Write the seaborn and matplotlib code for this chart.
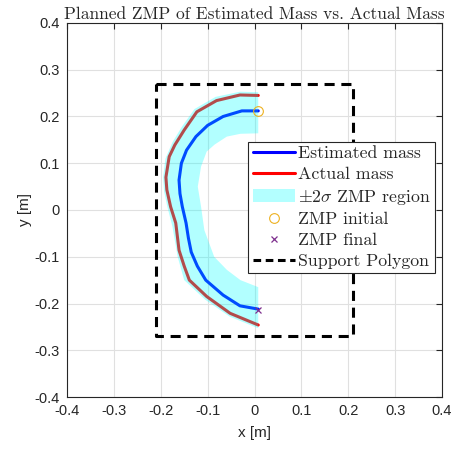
import numpy as np
import matplotlib
matplotlib.use('Agg')
import matplotlib.pyplot as plt
import seaborn as sb
from matplotlib.lines import Line2D
from matplotlib.patches import Patch

# traiectoria ZMP planificata cu masa estimata
est_x = [0.008, -0.027, -0.067, -0.100, -0.125, -0.145, -0.156, -0.161, -0.159,
         -0.154, -0.146, -0.141, -0.135, -0.122, -0.104, -0.067, -0.031, 0.008]
est_y = [0.212, 0.212, 0.200, 0.181, 0.157, 0.128, 0.100, 0.064, 0.035,
         0.007, -0.028, -0.060, -0.090, -0.120, -0.150, -0.182, -0.205, -0.212]

# traiectoria cu masa reala
act_x = [0.008, -0.031, -0.081, -0.123, -0.150, -0.170, -0.182, -0.189, -0.187,
         -0.179, -0.168, -0.161, -0.150, -0.139, -0.102, -0.052, 0.008]
act_y = [0.245, 0.246, 0.234, 0.210, 0.171, 0.139, 0.114, 0.070, 0.043,
         0.007, -0.028, -0.086, -0.120, -0.150, -0.185, -0.221, -0.246]

# regiunea +-2 sigma (margine exterioara si interioara)
out_x = [0.008, -0.031, -0.083, -0.128, -0.155, -0.175, -0.190, -0.195, -0.193,
         -0.186, -0.175, -0.164, -0.150, -0.105, -0.053, 0.008]
out_y = [0.252, 0.253, 0.242, 0.216, 0.178, 0.145, 0.110, 0.070, 0.040,
         0.007, -0.036, -0.100, -0.150, -0.192, -0.228, -0.253]
in_x = [0.008, -0.030, -0.059, -0.085, -0.102, -0.114, -0.121, -0.114,
        -0.107, -0.086, -0.059, -0.030, 0.008]
in_y = [0.164, 0.163, 0.157, 0.140, 0.125, 0.093, 0.050, 0.007,
        -0.043, -0.100, -0.128, -0.150, -0.165]

zmp_init = (0.008, 0.212)
zmp_final = (0.008, -0.213)

# poligonul de sprijin
poly_x = [-0.21, 0.21, 0.21, -0.21, -0.21]
poly_y = [0.27, 0.27, -0.27, -0.27, 0.27]

ticks = [-0.4, -0.3, -0.2, -0.1, 0, 0.1, 0.2, 0.3, 0.4]
tick_labels = ['-0.4', '-0.3', '-0.2', '-0.1', '0', '0.1', '0.2', '0.3', '0.4']

sb.set_style('white')
plt.rcParams['font.family'] = ['Liberation Sans', 'DejaVu Sans']
plt.rcParams['mathtext.fontset'] = 'cm'

fig = plt.figure(figsize=(4.58, 4.49), dpi=100)
ax = fig.add_axes([0.1463, 0.1158, 0.8188, 0.8330])

c_init = (0.929, 0.694, 0.125)
c_final = (0.494, 0.184, 0.556)
gri = (0.15, 0.15, 0.15)

sb.lineplot(x=est_x, y=est_y, sort=False, estimator=None, color='b', lw=2.2, ax=ax, zorder=2)
sb.lineplot(x=act_x, y=act_y, sort=False, estimator=None, color='r', lw=2.2, ax=ax, zorder=2)
band_x = out_x + in_x[::-1]
band_y = out_y + in_y[::-1]
ax.fill(band_x, band_y, color='cyan', alpha=0.3, lw=0, zorder=3)
ax.plot(*zmp_init, 'o', mfc='none', mec=c_init, ms=7, mew=0.8, zorder=4)
ax.plot(*zmp_final, 'x', color=c_final, ms=5, mew=0.9, zorder=4)
ax.plot(poly_x, poly_y, color='k', lw=2.2, dashes=(3.3, 2.2), zorder=4)

ax.set_xlim(-0.4, 0.4)
ax.set_ylim(-0.4, 0.4)
ax.set_xticks(ticks)
ax.set_yticks(ticks)
ax.set_xticklabels(tick_labels)
ax.set_yticklabels(tick_labels)
ax.grid(True, color=(0.88, 0.88, 0.88), lw=0.8)
ax.set_axisbelow(True)
ax.tick_params(direction='in', length=4, width=0.8, color=gri,
               labelsize=10.5, labelcolor=gri,
               top=True, right=True, pad=5)
for s in ax.spines.values():
    s.set_color(gri)
    s.set_linewidth(0.8)
ax.set_xlabel('x [m]', fontsize=11, color=gri, labelpad=6)
ax.set_ylabel('y [m]', fontsize=11, color=gri, labelpad=2)
ax.set_title('Planned ZMP of Estimated Mass vs. Actual Mass', fontsize=12.5,
             family='cmr10', pad=3)

handles = [
    Line2D([], [], color='b', lw=2.2),
    Line2D([], [], color='r', lw=2.2),
    Patch(facecolor=(0.7, 1, 1), edgecolor='none'),
    Line2D([], [], ls='none', marker='o', mfc='none', mec=c_init, ms=7, mew=0.8),
    Line2D([], [], ls='none', marker='x', color=c_final, ms=5, mew=0.9),
    Line2D([], [], color='k', lw=2.2, dashes=(2.5, 1.5)),
]
labels = ['Estimated mass', 'Actual mass', r'$\pm 2\sigma$ ZMP region',
          'ZMP initial', 'ZMP final', 'Support Polygon']
leg = ax.legend(handles, labels, loc='upper left', bbox_to_anchor=(0.483, 0.683),
                prop={'family': 'cmr10', 'size': 12.8}, frameon=True, fancybox=False,
                framealpha=1, edgecolor=gri, handlelength=2.4,
                handletextpad=0.15, borderpad=0.25, labelspacing=0.3,
                borderaxespad=0)
leg.get_frame().set_linewidth(0.8)

fig.savefig('out.png', dpi=100)
